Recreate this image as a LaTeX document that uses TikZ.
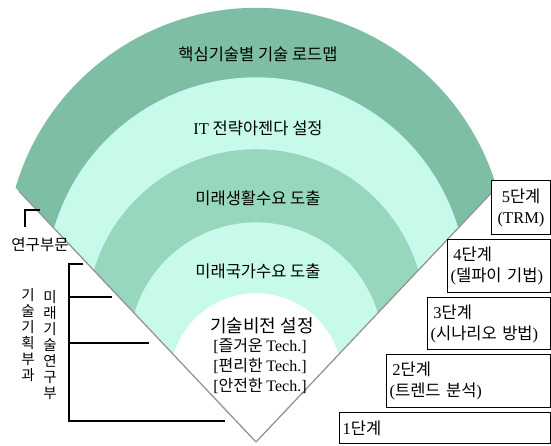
\documentclass[tikz,border=0pt]{standalone}
\usepackage{fontspec}
\setmainfont{Liberation Serif}
\newfontfamily\kr{Noto Sans CJK KR}
\newcommand\lat[1]{{\rmfamily #1}}
\definecolor{bandDark}{RGB}{125,190,165}
\definecolor{bandLight}{RGB}{200,250,236}
\definecolor{bandMid}{RGB}{150,215,190}
\definecolor{edgeGrey}{RGB}{150,150,150}
\begin{document}
\begin{tikzpicture}[x=1pt,y=1pt,
  lbl/.style={font=\kr\fontsize{16.5}{18}\selectfont, inner sep=0pt},
  visionlbl/.style={font=\kr\fontsize{18}{20}\selectfont, inner sep=0pt},
  techlbl/.style={font=\kr\fontsize{16}{18}\selectfont, inner sep=0pt},
  side/.style={font=\kr\fontsize{15.5}{16}\selectfont, inner sep=0pt},
  vert/.style={font=\kr\fontsize{14.5}{16}\selectfont, inner sep=0pt, align=center, anchor=north},
  stepbox/.style={draw=black, line width=1.2pt, fill=white, anchor=north west,
    inner xsep=3pt, inner ysep=0pt, align=left, font=\kr\fontsize{16.5}{21}\selectfont},
  bracket/.style={draw=black, line width=1.2pt},
  edgeline/.style={draw=edgeGrey, line width=1.3pt}]
\useasboundingbox (0,0) rectangle (551,446);
\fill[white] (0,0) rectangle (551,446);
\coordinate (A) at (256,4);
% fan bands (outer to inner)
\foreach \d/\c in {350/bandDark, 294/bandLight, 236/bandMid, 177/bandLight, 120/white}
  \fill[\c] (A) -- ++(-0.687*\d, 0.727*\d) arc[start angle=163.5, end angle=16.5, radius=0.717*\d] -- cycle;
% straight edges
\draw[edgeline] (A) -- ++(-0.687*345, 0.727*345);
\draw[edgeline] (A) -- ++(0.687*345, 0.727*345);
% band labels
\node[lbl] (roadmap) at (258,392) {핵심기술별 기술 로드맵};
\node[lbl] (agenda) at (258,318) {\lat{IT} 전략아젠다 설정};
\node[lbl] (life) at (258,248) {미래생활수요 도출};
\node[lbl] (nation) at (258,175) {미래국가수요 도출};
\node[visionlbl] (vision) at (262,120) {기술비전 설정};
\node[techlbl] (fun) at (260,100) {\lat{[}즐거운 \lat{Tech.]}};
\node[techlbl] (easy) at (260,80) {\lat{[}편리한 \lat{Tech.]}};
\node[techlbl] (safe) at (260,60) {\lat{[}안전한 \lat{Tech.]}};
% step boxes
\node[stepbox, align=center, text width=53pt, minimum height=54pt] (s5) at (491,266) {\lat{5}단계\\\lat{(TRM)}};
\node[stepbox, text width=97pt, minimum height=53pt] (s4) at (447,207) {\,\lat{4}단계\\\lat{(}델파이 기법\lat{)}};
\node[stepbox, text width=117pt, minimum height=52pt] (s3) at (427,149) {\,\lat{3}단계\\\lat{(}시나리오 방법\lat{)}};
\node[stepbox, text width=158pt, minimum height=53pt] (s2) at (386,92) {\,\lat{2}단계\\\lat{(}트렌드 분석\lat{)}};
\node[stepbox, text width=205pt, minimum height=31pt] (s1) at (339,34) {\lat{1}단계};
% left side labels
\node[side] (research) at (40,201) {연구부문};
\draw[bracket] (25,219) -- (25,236) -- (40,236);
\node[vert] (planning) at (28,158) {기\\술\\기\\획\\부\\과};
\node[vert] (future) at (50,156) {미\\래\\기\\술\\연\\구\\부};
\draw[bracket] (83,182) -- (69,182) -- (69,25) -- (225,25);
\draw[bracket] (69,149) -- (112,149);
\draw[bracket] (69,103) -- (149,103);
\end{tikzpicture}
\end{document}
